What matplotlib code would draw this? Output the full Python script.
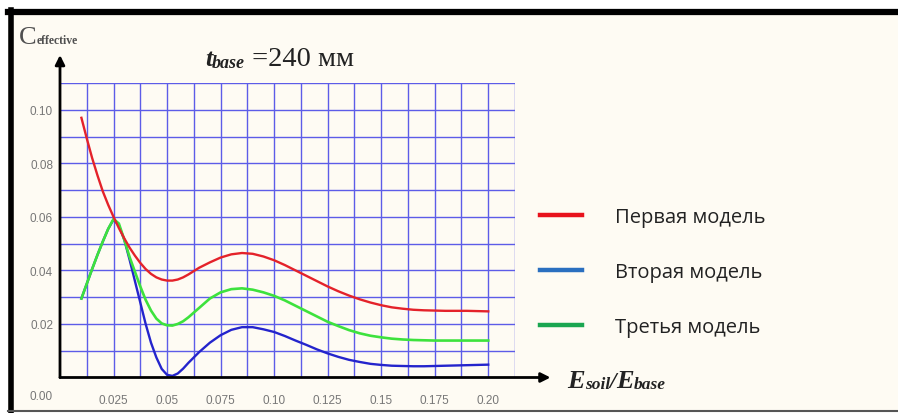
import numpy as np
import matplotlib
matplotlib.use("Agg")
import matplotlib.pyplot as plt
from matplotlib.lines import Line2D

# ---------------- data ----------------
x_ratio = [0.0100, 0.0125, 0.0150, 0.0175, 0.0200, 0.0225, 0.0250, 0.0275, 0.0300, 0.0325,
           0.0350, 0.0375, 0.0400, 0.0425, 0.0450, 0.0475, 0.0500, 0.0525, 0.0550, 0.0575,
           0.0600, 0.065, 0.070, 0.075, 0.080, 0.085, 0.090, 0.095, 0.100, 0.105,
           0.110, 0.115, 0.120, 0.125, 0.130, 0.135, 0.140, 0.145, 0.150, 0.155,
           0.160, 0.165, 0.170, 0.175, 0.180, 0.185, 0.190, 0.195, 0.200]

model1 = [0.0970, 0.0893, 0.0820, 0.0755, 0.0695, 0.0645, 0.0600, 0.0558, 0.0520, 0.0485,
          0.0455, 0.0428, 0.0405, 0.0387, 0.0374, 0.0366, 0.0362, 0.0362, 0.0366, 0.0374,
          0.0385, 0.0410, 0.0430, 0.0448, 0.0460, 0.0465, 0.0462, 0.0452, 0.0438, 0.0420,
          0.0400, 0.0380, 0.0360, 0.0340, 0.0322, 0.0306, 0.0292, 0.0280, 0.0270, 0.0262,
          0.0257, 0.0253, 0.0251, 0.0250, 0.0249, 0.0249, 0.0249, 0.0248, 0.0247]

model2 = [0.0295, 0.0350, 0.0405, 0.0458, 0.0508, 0.0555, 0.0590, 0.0568, 0.0515, 0.0440,
          0.0360, 0.0280, 0.0200, 0.0130, 0.0075, 0.0032, 0.0010, 0.0006, 0.0015, 0.0033,
          0.0055, 0.0095, 0.0130, 0.0158, 0.0178, 0.0188, 0.0188, 0.0180, 0.0170, 0.0155,
          0.0138, 0.0122, 0.0105, 0.0090, 0.0077, 0.0066, 0.0058, 0.0051, 0.0047, 0.0044,
          0.0043, 0.0042, 0.0042, 0.0043, 0.0044, 0.0045, 0.0046, 0.0047, 0.0048]

model3 = [0.0295, 0.0350, 0.0405, 0.0458, 0.0508, 0.0555, 0.0592, 0.0575, 0.0515, 0.0450,
          0.0395, 0.0340, 0.0290, 0.0250, 0.0220, 0.0202, 0.0195, 0.0194, 0.0200, 0.0210,
          0.0225, 0.0260, 0.0295, 0.0318, 0.0330, 0.0333, 0.0328, 0.0318, 0.0305, 0.0288,
          0.0268, 0.0248, 0.0228, 0.0208, 0.0192, 0.0177, 0.0165, 0.0156, 0.0150, 0.0145,
          0.0142, 0.0140, 0.0139, 0.0138, 0.0138, 0.0138, 0.0138, 0.0138, 0.0138]

series_labels = ["Первая модель", "Вторая модель", "Третья модель"]
x_ticks = [0.025, 0.05, 0.075, 0.10, 0.125, 0.15, 0.175, 0.20]
x_tick_labels = ["0.025", "0.05", "0.075", "0.10", "0.125", "0.15", "0.175", "0.20"]
y_ticks = [0.02, 0.04, 0.06, 0.08, 0.10]
y_tick_labels = ["0.02", "0.04", "0.06", "0.08", "0.10"]

# ---------------- figure ----------------
W, H = 898, 414
fig = plt.figure(figsize=(W / 100, H / 100), dpi=100, facecolor='white')

def fx(px):
    return px / W

def fy(py):
    return 1 - py / H

# cream panel with black frame
bg = plt.Rectangle((fx(8), fy(412)), fx(898 - 8), (412 - 13) / H,
                   transform=fig.transFigure, facecolor='#fefbf3', edgecolor='none', zorder=0)
fig.add_artist(bg)
fig.add_artist(Line2D([fx(8), 1], [fy(13), fy(13)], transform=fig.transFigure, color='black', lw=4.5))
fig.add_artist(Line2D([fx(10.5), fx(10.5)], [fy(11), fy(413)], transform=fig.transFigure, color='black', lw=4))
fig.add_artist(Line2D([fx(8), 1], [fy(412), fy(412)], transform=fig.transFigure, color='#555555', lw=1.5))

ax = fig.add_axes([fx(60), fy(378.5), (515 - 60) / W, (378.5 - 84) / H])
ax.set_facecolor('none')
ax.set_xlim(0, 0.2125)
ax.set_ylim(0, 0.11)

grid_col = '#5c5ce8'
for gx in np.arange(0.0125, 0.2126, 0.0125):
    ax.axvline(gx, color=grid_col, lw=1.0, zorder=1)
for gy in np.arange(0.01, 0.1101, 0.01):
    ax.axhline(gy, color=grid_col, lw=1.0, zorder=1)

ax.plot(x_ratio, model2, color='#2424cc', lw=1.7, zorder=3, solid_joinstyle='round')
ax.plot(x_ratio, model3, color='#3de23d', lw=1.9, zorder=4, solid_joinstyle='round')
ax.plot(x_ratio, model1, color='#e4222a', lw=1.7, zorder=5, solid_joinstyle='round')

for s in ax.spines.values():
    s.set_visible(False)

ax.set_xticks(x_ticks)
ax.set_xticklabels(x_tick_labels)
ax.set_yticks(y_ticks)
ax.set_yticklabels(y_tick_labels)
ax.tick_params(axis='both', length=0, labelcolor='#777777', labelsize=8.5)
ax.tick_params(axis='x', pad=12)
ax.tick_params(axis='y', pad=5)
for lab in ax.get_xticklabels() + ax.get_yticklabels():
    lab.set_fontfamily('Liberation Sans')

# axes arrows
ax.annotate('', xy=(0, 1.095), xytext=(0, 0), xycoords='axes fraction',
            arrowprops=dict(arrowstyle='-|>', color='black', lw=2, mutation_scale=14,
                            shrinkA=0, shrinkB=0), annotation_clip=False, zorder=6)
ax.annotate('', xy=(1.078, 0), xytext=(0, 0), xycoords='axes fraction',
            arrowprops=dict(arrowstyle='-|>', color='black', lw=2, mutation_scale=14,
                            shrinkA=0, shrinkB=0), annotation_clip=False, zorder=6)

# corner 0.00 label
fig.text(fx(41), fy(397), "0.00", ha='center', va='center', fontsize=8.5,
         color='#777777', family='Liberation Sans')

renderer = fig.canvas.get_renderer()

def place_runs(x_px, y_px, runs, color='#222222'):
    """Place consecutive text runs: (text, size, weight, style, dy_px)."""
    cur = x_px
    for txt, size, weight, style, dy in runs:
        t = fig.text(fx(cur), fy(y_px + dy), txt, ha='left', va='baseline', fontsize=size,
                     family='Liberation Serif', weight=weight, style=style, color=color)
        bb = t.get_window_extent(renderer)
        cur += bb.width

# y axis title
place_runs(19, 44, [("C", 19, 'normal', 'normal', 0),
                    ("effective", 8.5, 'bold', 'normal', 0)], color='#505050')

# title
place_runs(205, 66, [("t", 18.5, 'bold', 'italic', 0),
                     ("base", 13, 'bold', 'italic', 2),
                     (" =240 мм", 20.5, 'normal', 'normal', 0)])

# x axis title
place_runs(567, 388, [("E", 19, 'bold', 'italic', 0),
                      ("soil", 12.5, 'bold', 'italic', 1),
                      ("/", 17, 'bold', 'italic', 0),
                      ("E", 19, 'bold', 'italic', 0),
                      ("base", 12.5, 'bold', 'italic', 1)])

# legend
handles = [Line2D([], [], color='#e8121c', lw=3.2),
           Line2D([], [], color='#2a6fbf', lw=3.2),
           Line2D([], [], color='#1aa650', lw=3.2)]
fig.legend(handles, series_labels, loc='upper left', bbox_to_anchor=(fx(540), fy(208)),
           frameon=False, borderpad=0, borderaxespad=0, handlelength=2.1,
           handletextpad=1.64, labelspacing=1.73,
           prop={'family': 'Open Sans', 'size': 14.5}, labelcolor='#222222')

fig.savefig('out.png', dpi=100, facecolor='white')
